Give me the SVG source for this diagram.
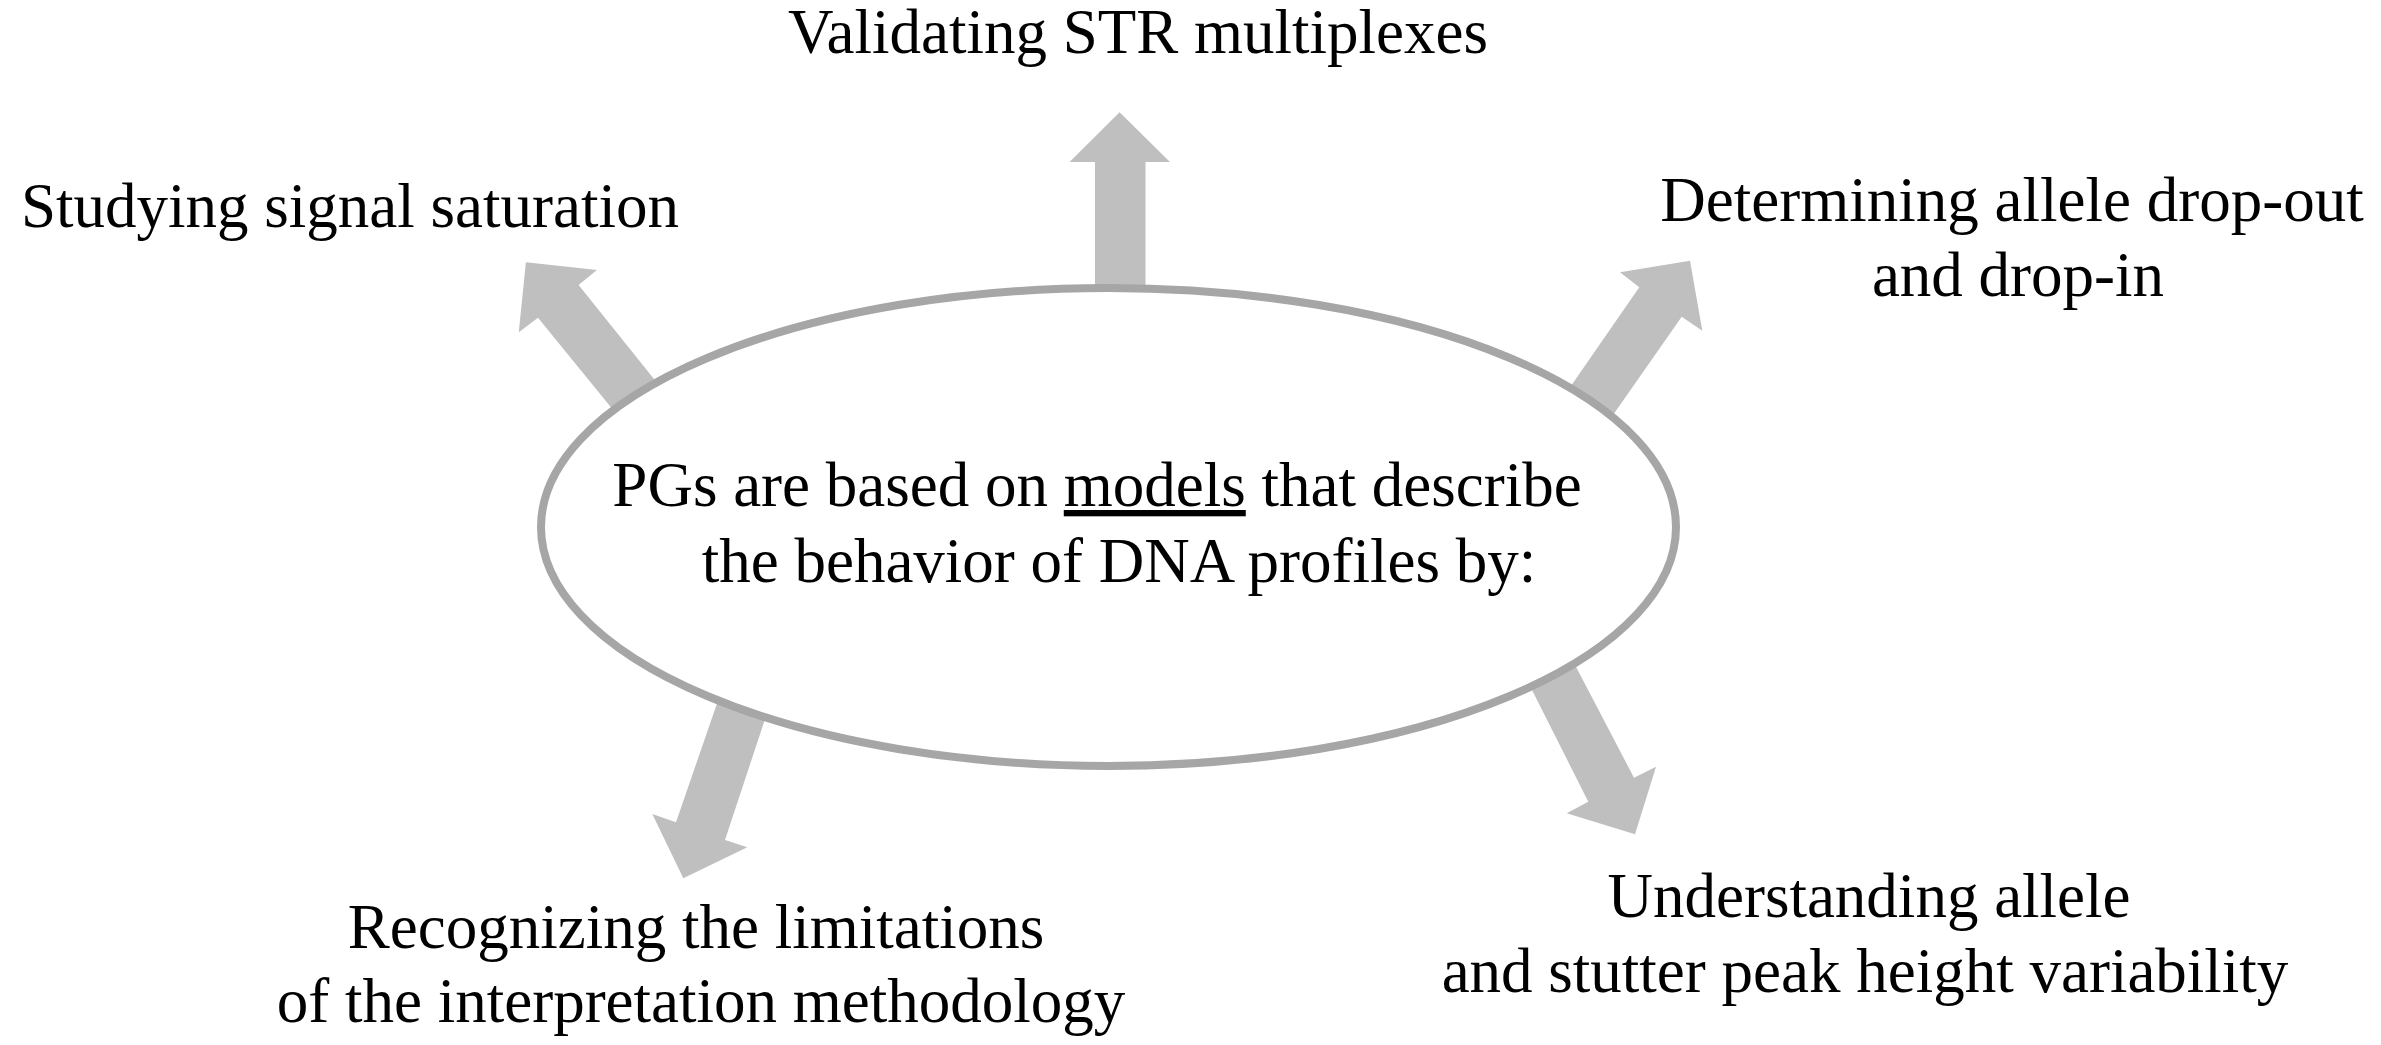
<svg xmlns="http://www.w3.org/2000/svg" width="2381" height="1045" viewBox="0 0 2381 1045">
<style>
  .arrow { fill: #bfbfbf; stroke: none; }
  .lbl { font-family: "Liberation Serif", "Times New Roman", serif; font-size: 63px; fill: #000; text-anchor: middle; }
  .hub { fill: #ffffff; stroke: #a6a6a6; stroke-width: 8; }
</style>
<rect width="2381" height="1045" fill="#ffffff"/>
<g id="connectors">
  <polygon class="arrow" points="1119.6,112.3 1170,162 1145.5,162 1145.5,295 1095,295 1095,162 1069.6,162"/>
  <polygon class="arrow" points="525.9,262.3 596.9,270 578.6,285 659,385.2 619.7,417.9 538,317.7 518.75,332.3"/>
  <polygon class="arrow" points="1690,260.7 1702.3,330.7 1681.7,316.7 1609.7,419.8 1567.1,391.5 1639.3,287.3 1620,272.3"/>
  <polygon class="arrow" points="683.3,878.3 652.3,814 676,822.3 718.3,699.7 765.9,716.4 725,840 747.3,847.3"/>
  <polygon class="arrow" points="1635,834.3 1566.7,813.3 1588.3,801.7 1529.6,685.2 1574,662.9 1634,777.7 1656,766.7"/>
</g>
<g id="center">
  <ellipse class="hub" cx="1108.5" cy="527" rx="567.5" ry="239"/>
  <text class="lbl" x="1097" y="506">PGs are based on <tspan text-decoration="underline">models</tspan> that describe</text>
  <text class="lbl" x="1119" y="582">the behavior of DNA profiles by:</text>
</g>
<g id="node-str">
  <text class="lbl" x="1138" y="53">Validating STR multiplexes</text>
</g>
<g id="node-saturation">
  <text class="lbl" x="350" y="227">Studying signal saturation</text>
</g>
<g id="node-dropout">
  <text class="lbl" x="2012" y="221">Determining allele drop-out</text>
  <text class="lbl" x="2018" y="296">and drop-in</text>
</g>
<g id="node-limitations">
  <text class="lbl" x="696" y="948">Recognizing the limitations</text>
  <text class="lbl" x="701" y="1022">of the interpretation methodology</text>
</g>
<g id="node-variability">
  <text class="lbl" x="1869" y="917">Understanding allele</text>
  <text class="lbl" x="1865" y="992">and stutter peak height variability</text>
</g>
</svg>
